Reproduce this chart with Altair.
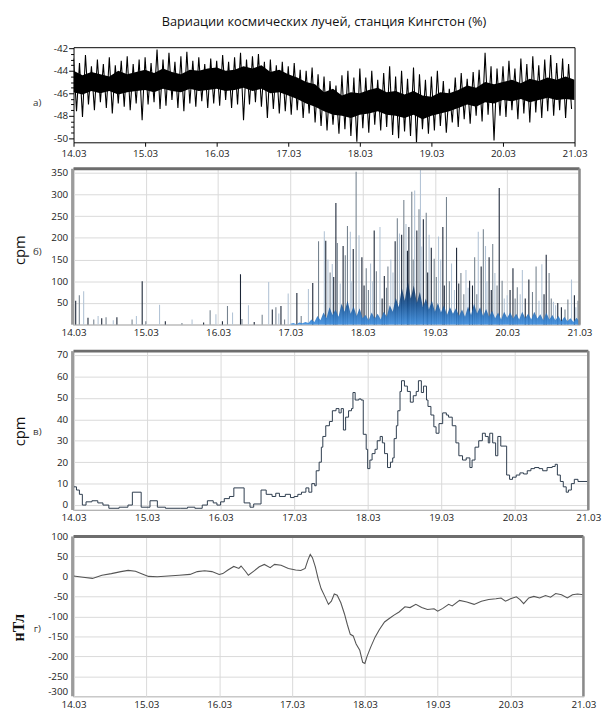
import json
import altair as alt
import pandas as pd

FONT = "Open Sans"

title_text = "Вариации космических лучей, станция Кингстон (%)"
day_labels = ["14.03", "15.03", "16.03", "17.03", "18.03", "19.03", "20.03", "21.03"]
panel_tags = ["а)", "б)", "в)", "г)"]
y_titles = ["cpm", "cpm", "нТл"]

# ---- panel a: Kingston cosmic ray variations (%), 2-hourly spike tips (up / down) ----
a_hi = [-42.9, -43.3, -42.6, -43.6, -43.0, -43.4, -42.8, -43.5, -43.1, -42.7, -43.4, -43.0,
        -42.8, -43.3, -42.1, -43.0, -42.4, -43.2, -42.7, -42.3, -43.1, -42.8, -43.4, -42.9,
        -43.1, -42.6, -43.2, -42.8, -42.4, -43.0, -42.7, -42.5, -43.2, -43.0, -43.5, -43.2,
        -43.6, -43.3, -43.9, -44.0, -43.7, -44.3, -44.5, -44.9, -45.3, -44.4, -44.0, -44.6,
        -43.8, -44.6, -44.0, -44.8, -44.2, -43.6, -44.5, -44.0, -44.7, -43.7, -44.3, -44.8,
        -44.5, -44.0, -44.9, -45.6, -44.6, -44.2, -44.7, -44.1, -43.9, -42.4, -43.6, -43.8,
        -43.6, -43.1, -43.8, -42.9, -43.4, -42.7, -43.5, -43.0, -42.6, -43.3, -42.9, -43.4]
a_lo = [-47.6, -48.1, -47.0, -47.5, -46.8, -47.3, -47.8, -46.9, -47.2, -47.5, -46.9, -48.4,
        -47.0, -46.8, -47.4, -47.1, -46.6, -47.3, -47.6, -46.9, -47.2, -46.7, -47.3, -46.9,
        -47.1, -46.6, -47.3, -47.0, -48.4, -47.0, -46.8, -47.2, -48.2, -47.4, -47.8, -47.6,
        -47.9, -47.5, -48.2, -47.8, -48.6, -48.9, -49.3, -48.8, -49.6, -49.2, -49.8, -50.3,
        -49.1, -49.5, -48.8, -49.3, -49.0, -49.7, -50.0, -49.4, -49.8, -50.4, -49.2, -49.6,
        -49.3, -48.9, -49.5, -48.6, -49.0, -48.3, -48.7, -48.0, -48.5, -47.9, -50.2, -48.0,
        -48.1, -47.5, -48.3, -47.8, -48.6, -47.7, -48.2, -47.6, -48.0, -47.5, -48.2, -47.4]
# dense core band, every 3 hours
a_core_hi = [-44.0, -44.4, -44.1, -44.3, -44.5, -44.0, -44.3, -44.1,
             -43.9, -44.2, -43.8, -44.1, -44.3, -43.9, -44.0, -43.8,
             -43.7, -44.0, -43.9, -43.6, -43.8, -43.5, -44.1, -43.9,
             -44.3, -44.6, -45.0, -45.2, -45.9, -45.6, -46.2, -45.9,
             -46.0, -45.7, -45.5, -45.9, -45.8, -46.1, -45.8, -46.2,
             -46.3, -45.9, -46.0, -45.7, -45.3, -45.5, -45.0, -45.2,
             -45.0, -44.8, -45.1, -44.7, -44.9, -44.6, -44.8, -44.5, -44.8]
a_core_lo = [-45.9, -46.1, -45.8, -46.0, -45.8, -46.1, -45.9, -45.8,
             -45.7, -45.9, -45.6, -45.8, -45.9, -45.6, -45.8, -45.7,
             -45.6, -45.8, -45.7, -45.5, -45.8, -45.6, -46.0, -45.9,
             -46.2, -46.5, -46.9, -47.2, -47.6, -47.9, -48.0, -48.2,
             -47.9, -47.8, -47.6, -47.9, -48.0, -48.2, -47.9, -48.3,
             -48.0, -47.8, -47.6, -47.3, -47.0, -47.2, -46.8, -46.9,
             -46.6, -46.7, -46.5, -46.8, -46.6, -46.4, -46.6, -46.5, -46.6]

# ---- panel b: spikes (days after 14.03 00:00, cpm) ----
b_t = [0.03, 0.08, 0.14, 0.20, 0.28, 0.34, 0.39, 0.45, 0.55, 0.60, 0.81, 0.87, 0.95, 1.00, 1.19,
       1.27, 1.50, 1.64, 1.80, 1.89, 1.97, 2.06, 2.13, 2.20, 2.31, 2.33, 2.42, 2.50, 2.61, 2.70,
       2.75, 2.80, 2.84, 2.87, 2.92, 2.97,
       3.09, 3.15, 3.25, 3.31, 3.39, 3.47, 3.49, 3.55, 3.58, 3.63, 3.65, 3.69, 3.73, 3.79, 3.83,
       3.87, 3.91, 3.95, 3.99, 4.05, 4.11, 4.16, 4.19, 4.24, 4.30, 4.35, 4.39, 4.45, 4.48, 4.51,
       4.54, 4.57, 4.60, 4.64, 4.68, 4.72, 4.75, 4.78, 4.80, 4.84, 4.88, 4.92, 4.95, 4.99, 5.05,
       5.11, 5.16, 5.23, 5.30, 5.36, 5.43, 5.48, 5.55, 5.60, 5.64, 5.67, 5.70, 5.75, 5.80, 5.83,
       5.89, 5.93, 6.00, 6.08, 6.14, 6.21, 6.30, 6.40, 6.48, 6.54, 6.58, 6.64, 6.70, 6.84, 6.89,
       6.93, 6.98,
       3.52, 3.60, 3.76, 3.85, 4.02, 4.08, 4.14, 4.27, 4.33, 4.42, 4.62, 4.70, 4.82, 4.90, 5.02,
       5.08, 5.13, 5.20, 5.27, 5.33, 5.40, 5.46, 5.52, 5.58, 5.72, 5.78, 5.86, 5.96, 6.04, 6.11,
       6.18, 6.25, 6.35, 6.44, 6.51, 6.61, 6.67, 6.75, 6.80, 6.95]
b_v = [55, 68, 77, 16, 12, 20, 15, 17, 10, 17, 12, 20, 100, 8, 46,
       8, 4, 12, 5, 33, 24, 8, 43, 28, 116, 13, 45, 6, 23, 98,
       35, 40, 26, 43, 12, 72,
       73, 20, 82, 96, 192, 215, 193, 120, 140, 280, 188, 95, 181, 227, 214,
       174, 352, 206, 155, 130, 141, 217, 123, 225, 112, 134, 150, 192, 245, 210,
       207, 287, 232, 225, 306, 309, 217, 266, 356, 243, 258, 207, 177, 152, 203,
       225, 294, 141, 177, 119, 126, 101, 155, 214, 134, 220, 181, 155, 186, 119,
       315, 101, 68, 130, 86, 126, 104, 134, 139, 161, 119, 53, 50, 58, 104,
       68, 55,
       150, 110, 160, 100, 90, 80, 100, 60, 85, 120, 170, 150, 180, 120, 110,
       150, 90, 100, 80, 95, 70, 85, 90, 70, 100, 80, 90, 60, 80, 60,
       70, 60, 75, 55, 70, 60, 45, 40, 35, 40]
# dense low-level background, hourly from 17.03 00:00
b_base = [2, 4, 1, 5, 3, 6, 4,
          12, 6, 20, 10, 28, 15,
          40, 22, 35, 18, 48, 30,
          55, 25, 42, 20, 38, 15,
          22, 10, 28, 14, 25, 12,
          30, 18, 45, 30, 62, 40,
          85, 55, 100, 60, 90, 50,
          75, 40, 60, 35, 55, 30,
          50, 28, 45, 22, 40, 25,
          38, 20, 35, 18, 42, 22,
          48, 26, 40, 20, 36, 18,
          32, 15, 28, 12, 30, 16,
          28, 14, 25, 12, 30, 15,
          26, 12, 30, 14, 24, 10,
          28, 12, 22, 10, 20, 8,
          18, 8, 15, 6, 16, 8]

# ---- panel c: step series (days, cpm) ----
c_t = [0.00, 0.04, 0.08, 0.12, 0.17, 0.25, 0.33, 0.40, 0.48, 0.62, 0.74, 0.80, 0.92, 1.04, 1.14,
       1.25, 1.45, 1.55, 1.65, 1.75, 1.82, 1.90, 1.95, 2.00, 2.05, 2.12, 2.18, 2.32, 2.40, 2.45,
       2.55, 2.62, 2.70, 2.75, 2.80, 2.88, 2.95, 3.00, 3.05, 3.10, 3.16, 3.20, 3.24, 3.28, 3.30,
       3.34, 3.37, 3.39, 3.43, 3.48, 3.52, 3.57, 3.61, 3.64, 3.67, 3.70, 3.74, 3.78, 3.80, 3.83,
       3.88, 3.91, 3.94, 3.98, 4.00, 4.03, 4.06, 4.10, 4.13, 4.17, 4.20, 4.23, 4.27, 4.31, 4.34,
       4.36, 4.39, 4.41, 4.44, 4.46, 4.50, 4.54, 4.58, 4.62, 4.66, 4.69, 4.73, 4.76, 4.80, 4.82,
       4.86, 4.90, 4.93, 4.97, 5.02, 5.07, 5.10, 5.15, 5.20, 5.24, 5.29, 5.34, 5.39, 5.42, 5.46,
       5.51, 5.56, 5.60, 5.64, 5.66, 5.70, 5.74, 5.77, 5.81, 5.84, 5.89, 5.93, 5.97, 6.02, 6.07,
       6.12, 6.17, 6.22, 6.27, 6.33, 6.38, 6.44, 6.51, 6.55, 6.58, 6.62, 6.66, 6.70, 6.73, 6.77,
       6.81, 6.86, 7.00]
c_v = [8.5, 7, 5, 0, 1.5, 2, 1, 0, -1.5, -1, 0, 6, -1, 2, -1,
       -1.5, -1.5, -1, -1.5, 0, 2, 1, 0, 1.5, 3, 4, 8, 1, -1, 0.5,
       7, 5, 4, 5.5, 4, 5, 3.5, 4, 5, 6, 8, 6, 10, 9, 16,
       20, 27, 32, 37, 39, 44, 45, 43, 45, 35, 41, 44, 45, 52.5, 49,
       49.5, 49, 33, 26, 17, 21, 24, 26, 30, 32, 29, 24, 17.5, 20, 22,
       31, 37, 44, 53, 58, 55.5, 53, 48, 51, 53, 58, 52.5, 55.5, 49, 46,
       42, 36.5, 33.5, 38, 43, 42, 41, 37, 29, 23, 21, 22, 17.5, 21, 27,
       30, 33.5, 32, 29, 33.5, 29, 23, 32, 27.5, 27.5, 14, 12, 13, 14, 15,
       14.5, 16, 17, 17.5, 17, 16, 17.5, 18, 19, 14, 11, 8.5, 6, 7, 10,
       12, 11, 11]

# ---- panel d: geomagnetic field (days, nT) ----
d_t = [0.00, 0.13, 0.26, 0.39, 0.52, 0.65, 0.75, 0.85, 0.96, 1.03, 1.15, 1.30, 1.45, 1.60, 1.70,
       1.80, 1.90, 2.00, 2.05, 2.12, 2.20, 2.27, 2.30, 2.36, 2.40, 2.48, 2.55, 2.62, 2.70, 2.76,
       2.85, 2.95, 3.05, 3.12, 3.18, 3.22, 3.25, 3.28, 3.32, 3.36, 3.40, 3.45, 3.50, 3.54, 3.58,
       3.62, 3.67, 3.72, 3.76, 3.80, 3.84, 3.88, 3.93, 3.97, 4.00, 4.03, 4.08, 4.14, 4.20, 4.27,
       4.33, 4.40, 4.47, 4.55, 4.62, 4.70, 4.78, 4.86, 4.95, 5.00, 5.07, 5.15, 5.20, 5.30, 5.40,
       5.50, 5.60, 5.70, 5.80, 5.87, 5.93, 6.00, 6.08, 6.13, 6.18, 6.25, 6.32, 6.40, 6.48, 6.55,
       6.62, 6.70, 6.78, 6.85, 6.92, 7.00]
d_v = [1, -2, -5, 3, 7, 12, 15, 13, 5, 0, -1, 1, 3, 5, 12,
       14, 12, 5, 7, 16, 25, 20, 26, 13, 3, 14, 24, 30, 22, 30,
       28, 20, 16, 15, 20, 42, 55, 47, 24, -7, -31, -50, -70, -62, -44,
       -47, -66, -94, -121, -145, -149, -169, -185, -215, -218, -200, -177, -152, -133, -114,
       -106, -97, -89, -76, -78, -70, -78, -83, -81, -87, -80, -70, -74, -60, -64,
       -70, -62, -58, -56, -54, -62, -56, -51, -58, -68, -54, -50, -54, -48, -52,
       -43, -46, -54, -46, -44, -46]

# ---------------- layout ----------------
LEFT_TAG_X = -37
W_A, H_A = 511, 97
W_B, H_B = 516, 159
W_C, H_C = 525, 162
W_D, H_D = 520, 163

LBL = json.dumps(day_labels) + "[datum.value]"
XDOM = alt.Scale(domain=[0, 7], nice=False, zero=False)


def x_enc(grid, ticks):
    return alt.X("t:Q", scale=XDOM, axis=alt.Axis(
        values=list(range(8)), labelExpr=LBL, title=None, grid=grid, gridColor="#d9d9d9",
        ticks=ticks, tickSize=4, tickColor="#000", domain=False, labelPadding=3 if not ticks else 2,
        labelFont=FONT, labelFontSize=10, labelColor="#222", labelFlush=False,
        labelOverlap=False))


def tag(text, x, y):
    return alt.Chart(pd.DataFrame({"s": [text]})).mark_text(
        font=FONT, fontSize=10, color="#333").encode(
        x=alt.value(x), y=alt.value(y), text="s:N")


def ytitle(text, x, y, font, weight, size):
    return alt.Chart(pd.DataFrame({"s": [text]})).mark_text(
        font=font, fontSize=size, fontWeight=weight, color="#111", angle=270).encode(
        x=alt.value(x), y=alt.value(y), text="s:N")


def top_bar(w):
    return alt.Chart(pd.DataFrame({"k": [0]})).mark_rule(
        color="#6d6d6d", strokeWidth=3).encode(x=alt.value(0), x2=alt.value(w), y=alt.value(0))


def side_bar(xpos, h, color="#8a8a8a", width=2.5):
    return alt.Chart(pd.DataFrame({"k": [0]})).mark_rule(
        color=color, strokeWidth=width).encode(x=alt.value(xpos), y=alt.value(0), y2=alt.value(h))


def frame_layers(w, h):
    return [top_bar(w), side_bar(w, h), side_bar(-1, h, "#9c9c9c", 3)]


# ---- panel a ----
zig_t, zig_v = [], []
for k in range(len(a_hi)):
    zig_t += [(2 * k) / 24, (2 * k + 1) / 24]
    zig_v += [a_hi[k], a_lo[k]]
df_zig = pd.DataFrame({"t": zig_t, "v": zig_v})
df_core = pd.DataFrame({"t": [i * 0.125 for i in range(len(a_core_hi))],
                        "hi": a_core_hi, "lo": a_core_lo})

ya_scale = alt.Scale(domain=[-50.36, -41.9], nice=False, zero=False)
ya_ticks = [-50 + 0.5 * i for i in range(17)]
ya_axis = alt.Axis(values=ya_ticks, title=None, grid=False,
                   labelExpr="datum.value % 2 == 0 ? '' + datum.value : ''",
                   labelOverlap=False,
                   tickSize={"condition": {"test": "datum.value % 2 == 0", "value": 5}, "value": 3},
                   tickColor="#000", domain=False, labelPadding=1,
                   labelFont=FONT, labelFontSize=10, labelColor="#222")

core = alt.Chart(df_core).mark_area(color="#000", clip=True).encode(
    x=x_enc(False, True), y=alt.Y("lo:Q", scale=ya_scale, axis=ya_axis), y2="hi:Q")
zig = alt.Chart(df_zig).mark_line(color="#000", strokeWidth=1.1, clip=True).encode(
    x=x_enc(False, True), y=alt.Y("v:Q", scale=ya_scale, axis=ya_axis))
pa = alt.layer(core, zig, tag(panel_tags[0], LEFT_TAG_X, 57)).properties(
    width=W_A, height=H_A,
    view=alt.ViewBackground(stroke="#000", strokeWidth=1),
    title=alt.TitleParams(title_text, font=FONT, fontSize=13, fontWeight="normal",
                          color="#111", anchor="middle", offset=15))

# ---- panel b ----
df_b = pd.DataFrame({"t": b_t, "v": b_v})
df_b["z"] = 0
df_b["tone"] = [i % 3 for i in range(len(df_b))]
df_base = pd.DataFrame({"t": [3 + i / 24 for i in range(len(b_base))], "v": b_base})

yb_scale = alt.Scale(domain=[0, 359], nice=False)
yb_axis = alt.Axis(
    values=[50, 100, 150, 200, 250, 300, 350], title=None, grid=True, gridColor="#d9d9d9",
    ticks=False, domain=False, labelPadding=6, labelOverlap=False,
    labelFont=FONT, labelFontSize=10, labelColor="#222")

spikes = alt.Chart(df_b).mark_rule(strokeWidth=1.1, clip=True).encode(
    x=x_enc(True, False), y=alt.Y("v:Q", scale=yb_scale, axis=yb_axis), y2="z:Q",
    color=alt.Color("tone:N", scale=alt.Scale(domain=[0, 1, 2],
                    range=["#1b2536", "#76838f", "#b3c4d6"]), legend=None))
base = alt.Chart(df_base).mark_area(
    clip=True, opacity=0.9,
    fill=alt.Gradient(gradient="linear", x1=1, x2=1, y1=0, y2=1,
                      stops=[alt.GradientStop(color="#0e2547", offset=0),
                             alt.GradientStop(color="#1a5698", offset=0.55),
                             alt.GradientStop(color="#3a8de0", offset=1)])).encode(
    x=x_enc(True, False), y=alt.Y("v:Q", scale=yb_scale, axis=yb_axis))
pb = alt.layer(spikes, base, *frame_layers(W_B, H_B),
               tag(panel_tags[1], LEFT_TAG_X, 85),
               ytitle(y_titles[0], -55, 83, FONT, "normal", 15)).properties(
    width=W_B, height=H_B, view=alt.ViewBackground(stroke="#9a9a9a", strokeWidth=1.2))

# ---- panel c ----
df_c = pd.DataFrame({"t": c_t, "v": c_v})
yc = alt.Y("v:Q", scale=alt.Scale(domain=[-2.3, 71.8], nice=False, zero=False), axis=alt.Axis(
    values=[0, 10, 20, 30, 40, 50, 60, 70], title=None, grid=True, gridColor="#d9d9d9",
    ticks=False, domain=False, labelPadding=6, labelOverlap=False,
    labelFont=FONT, labelFontSize=10, labelColor="#222"))
linec = alt.Chart(df_c).mark_line(interpolate="step-after", color="#2b3a4c",
                                  strokeWidth=1, clip=True).encode(x=x_enc(True, False), y=yc)
pc = alt.layer(linec, *frame_layers(W_C, H_C),
               tag(panel_tags[2], LEFT_TAG_X, 83),
               ytitle(y_titles[1], -55, 82, FONT, "normal", 15)).properties(
    width=W_C, height=H_C, view=alt.ViewBackground(stroke="#9a9a9a", strokeWidth=1.2))

# ---- panel d ----
df_d = pd.DataFrame({"t": d_t, "v": d_v})
yd = alt.Y("v:Q", scale=alt.Scale(domain=[-300, 100], nice=False, zero=False), axis=alt.Axis(
    values=list(range(-300, 101, 50)), title=None, grid=True, gridColor="#d9d9d9",
    ticks=False, domain=False, labelPadding=6, labelExpr="'' + datum.value", labelOverlap=False,
    labelBaseline={"condition": {"test": "datum.value == -300", "value": "bottom"}, "value": "middle"},
    labelFont=FONT, labelFontSize=10, labelColor="#222"))
lined = alt.Chart(df_d).mark_line(color="#555", strokeWidth=1.1, clip=True).encode(
    x=x_enc(True, False), y=yd)
pd_ = alt.layer(lined, *frame_layers(W_D, H_D),
                tag(panel_tags[3], LEFT_TAG_X, 94),
                ytitle(y_titles[2], -56, 93, "Liberation Serif", "bold", 16)).properties(
    width=W_D, height=H_D, view=alt.ViewBackground(stroke="#9a9a9a", strokeWidth=1.2))

chart = alt.vconcat(pa, pb, pc, pd_, spacing=27, bounds="flush").properties(
    padding={"left": 10, "top": 8, "right": 0, "bottom": 0}
).configure(font=FONT).configure_view(stroke=None)

chart.save("out.html", embed_options={"renderer": "svg", "actions": False})
